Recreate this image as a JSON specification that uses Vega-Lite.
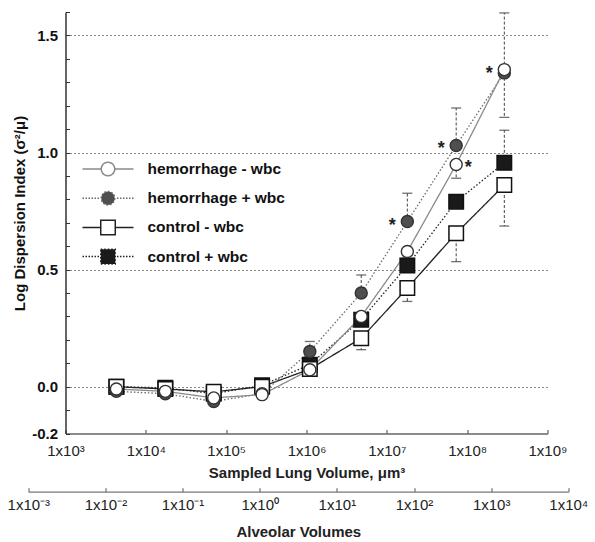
{
  "$schema": "https://vega.github.io/schema/vega-lite/v6.json",
  "width": 482,
  "height": 421.5,
  "autosize": {"type": "none"},
  "padding": {"left": 65.5, "top": 12, "right": 47.5, "bottom": 108.5},
  "background": "white",
  "config": {"view": {"stroke": null}, "font": "Liberation Sans"},
  "datasets": {
    "pts": [
      {"series": "control + wbc", "x": 4300, "y": 0.0},
      {"series": "control + wbc", "x": 17500, "y": -0.005},
      {"series": "control + wbc", "x": 70000, "y": -0.03},
      {"series": "control + wbc", "x": 280000, "y": 0.006},
      {"series": "control + wbc", "x": 1100000, "y": 0.094},
      {"series": "control + wbc", "x": 4800000, "y": 0.286},
      {"series": "control + wbc", "x": 18000000, "y": 0.517},
      {"series": "control + wbc", "x": 73000000, "y": 0.79},
      {"series": "control + wbc", "x": 290000000, "y": 0.956},
      {"series": "control - wbc", "x": 4300, "y": 0.0},
      {"series": "control - wbc", "x": 17500, "y": -0.01},
      {"series": "control - wbc", "x": 70000, "y": -0.022},
      {"series": "control - wbc", "x": 280000, "y": 0.0},
      {"series": "control - wbc", "x": 1100000, "y": 0.075},
      {"series": "control - wbc", "x": 4800000, "y": 0.207},
      {"series": "control - wbc", "x": 18000000, "y": 0.421},
      {"series": "control - wbc", "x": 73000000, "y": 0.655},
      {"series": "control - wbc", "x": 290000000, "y": 0.861},
      {"series": "hemorrhage + wbc", "x": 4300, "y": -0.02},
      {"series": "hemorrhage + wbc", "x": 17500, "y": -0.03},
      {"series": "hemorrhage + wbc", "x": 70000, "y": -0.063},
      {"series": "hemorrhage + wbc", "x": 280000, "y": -0.03},
      {"series": "hemorrhage + wbc", "x": 1100000, "y": 0.15},
      {"series": "hemorrhage + wbc", "x": 4800000, "y": 0.40},
      {"series": "hemorrhage + wbc", "x": 18000000, "y": 0.705},
      {"series": "hemorrhage + wbc", "x": 73000000, "y": 1.03},
      {"series": "hemorrhage + wbc", "x": 290000000, "y": 1.34},
      {"series": "hemorrhage - wbc", "x": 4300, "y": -0.01},
      {"series": "hemorrhage - wbc", "x": 17500, "y": -0.02},
      {"series": "hemorrhage - wbc", "x": 70000, "y": -0.048},
      {"series": "hemorrhage - wbc", "x": 280000, "y": -0.034},
      {"series": "hemorrhage - wbc", "x": 1100000, "y": 0.072},
      {"series": "hemorrhage - wbc", "x": 4800000, "y": 0.30},
      {"series": "hemorrhage - wbc", "x": 18000000, "y": 0.577},
      {"series": "hemorrhage - wbc", "x": 73000000, "y": 0.949},
      {"series": "hemorrhage - wbc", "x": 290000000, "y": 1.354}
    ],
    "err": [
      {"series": "hemorrhage + wbc", "x": 1100000, "y": 0.15, "y2": 0.193},
      {"series": "hemorrhage + wbc", "x": 4800000, "y": 0.40, "y2": 0.477},
      {"series": "control - wbc", "x": 4800000, "y": 0.207, "y2": 0.158},
      {"series": "hemorrhage + wbc", "x": 18000000, "y": 0.705, "y2": 0.826},
      {"series": "control - wbc", "x": 18000000, "y": 0.421, "y2": 0.364},
      {"series": "hemorrhage + wbc", "x": 73000000, "y": 1.03, "y2": 1.19},
      {"series": "hemorrhage - wbc", "x": 73000000, "y": 0.949, "y2": 0.89},
      {"series": "control - wbc", "x": 73000000, "y": 0.655, "y2": 0.534},
      {"series": "hemorrhage - wbc", "x": 290000000, "y": 1.354, "y2": 1.596},
      {"series": "hemorrhage + wbc", "x": 290000000, "y": 1.34, "y2": 1.15},
      {"series": "control + wbc", "x": 290000000, "y": 0.956, "y2": 1.095},
      {"series": "control - wbc", "x": 290000000, "y": 0.861, "y2": 0.686}
    ],
    "stars": [
      {"x": 18000000, "y": 0.705, "side": "L"},
      {"x": 73000000, "y": 1.03, "side": "L"},
      {"x": 73000000, "y": 0.949, "side": "R"},
      {"x": 290000000, "y": 1.354, "side": "L"}
    ],
    "alv": [{"a": 0.001}, {"a": 10000}]
  },
  "layer": [
    {
      "layer": [
        {
          "data": {"name": "pts"},
          "mark": {"type": "point", "filled": true, "opacity": 0},
          "encoding": {
            "x": {
              "field": "x", "type": "quantitative",
              "scale": {"type": "log", "domain": [1000, 1000000000]},
              "axis": {
                "title": "Sampled Lung Volume, μm³",
                "values": [1000, 10000, 100000, 1000000, 10000000, 100000000, 1000000000],
                "tickCount": 50,
                "labelExpr": "'1x10' + (datum.value < 1 ? '⁻' : '') + substring('⁰¹²³⁴⁵⁶⁷⁸⁹', round(abs(log(datum.value)/LN10)), round(abs(log(datum.value)/LN10)) + 1)",
                "grid": false,
                "tickSize": -4, "tickColor": "#444", "tickWidth": 1,
                "domainColor": "#666", "domainWidth": 1.3,
                "labelFont": "Liberation Sans", "labelFontSize": 15, "labelColor": "#222",
                "labelPadding": 14, "labelFlush": false, "labelOverlap": false,
                "titleFont": "Liberation Sans", "titleFontSize": 15, "titleFontWeight": "bold", "titleColor": "#222",
                "titleBaseline": "middle", "titleY": 38.5
              }
            },
            "y": {
              "field": "y", "type": "quantitative",
              "scale": {"domain": [-0.2, 1.6], "nice": false, "zero": false},
              "axis": {
                "title": "Log Dispersion Index (σ²/μ)",
                "values": [-0.2, -0.1, 0, 0.1, 0.2, 0.3, 0.4, 0.5, 0.6, 0.7, 0.8, 0.9, 1, 1.1, 1.2, 1.3, 1.4, 1.5, 1.6],
                "tickCount": 50,
                "labelExpr": "(abs(datum.value + 0.2) < 0.01 || abs(datum.value) < 0.01 || abs(datum.value - 0.5) < 0.01 || abs(datum.value - 1) < 0.01 || abs(datum.value - 1.5) < 0.01) ? replace(format(datum.value, '.1f'), '−', '-') : ''",
                "grid": true, "gridDash": [2, 2], "gridColor": "#888", "gridWidth": 1,
                "gridOpacity": {"condition": {"test": "abs(datum.value) < 0.01 || abs(datum.value - 0.5) < 0.01 || abs(datum.value - 1) < 0.01 || abs(datum.value - 1.5) < 0.01", "value": 1}, "value": 0},
                "tickSize": -4, "tickColor": "#333", "tickWidth": 1,
                "domainColor": "#333", "domainWidth": 1.5,
                "labelFont": "Liberation Sans", "labelFontSize": 15, "labelFontWeight": "bold", "labelColor": "#111",
                "labelPadding": 12, "labelOverlap": false,
                "titleFont": "Liberation Sans", "titleFontSize": 15, "titleFontWeight": "bold", "titleColor": "#111",
                "titleBaseline": "middle", "titleX": -46.5, "titleY": 201
              }
            },
            "fill": {
              "field": "series", "type": "nominal",
              "scale": {"domain": ["hemorrhage - wbc", "hemorrhage + wbc", "control - wbc", "control + wbc"], "range": ["#ffffff", "#4f4f4f", "#ffffff", "#1a1a1a"]}
            },
            "stroke": {
              "field": "series", "type": "nominal",
              "scale": {"domain": ["hemorrhage - wbc", "hemorrhage + wbc", "control - wbc", "control + wbc"], "range": ["#8a8a8a", "#6a6a6a", "#222222", "#222222"]}
            },
            "shape": {
              "field": "series", "type": "nominal",
              "scale": {
                "domain": ["hemorrhage - wbc", "hemorrhage + wbc", "control - wbc", "control + wbc"],
                "range": [
                  "M-3.4,0L-0.9,0M0.9,0L3.4,0M0.9,0A0.9,0.9,0,1,1,-0.9,0A0.9,0.9,0,1,1,0.9,0Z",
                  "M-3.4,0h0.2M-3,0h0.2M-2.6,0h0.2M-2.2,0h0.2M-1.8,0h0.2M-1.4,0h0.2M1.2,0h0.2M1.6,0h0.2M2,0h0.2M2.4,0h0.2M2.8,0h0.2M3.2,0h0.2M0.9,0A0.9,0.9,0,1,1,-0.9,0A0.9,0.9,0,1,1,0.9,0Z",
                  "M-3.4,0L-0.97,0M0.97,0L3.4,0M-0.97,-0.97H0.97V0.97H-0.97Z",
                  "M-3.4,0h0.2M-3,0h0.2M-2.6,0h0.2M-2.2,0h0.2M-1.8,0h0.2M-1.4,0h0.2M1.2,0h0.2M1.6,0h0.2M2,0h0.2M2.4,0h0.2M2.8,0h0.2M3.2,0h0.2M-0.97,-0.97H0.97V0.97H-0.97Z"
                ]
              },
              "legend": {
                "orient": "none", "legendX": 34, "legendY": 148.5, "title": null, "padding": 0,
                "symbolSize": 225, "symbolStrokeWidth": 1.5, "symbolOpacity": 1,
                "labelFont": "Liberation Sans", "labelFontSize": 15.5, "labelFontWeight": "bold", "labelColor": "#111",
                "labelOffset": 31, "rowPadding": 8.2, "symbolOffset": 0
              }
            }
          }
        },
        {
          "data": {"name": "err"},
          "mark": {"type": "rule", "strokeDash": [3, 2], "color": "#444", "strokeWidth": 1},
          "encoding": {
            "x": {"field": "x", "type": "quantitative"},
            "y": {"field": "y", "type": "quantitative"},
            "y2": {"field": "y2"}
          }
        },
        {
          "data": {"name": "err"},
          "mark": {"type": "tick", "orient": "horizontal", "size": 10, "thickness": 1.3, "color": "#333"},
          "encoding": {
            "x": {"field": "x", "type": "quantitative"},
            "y": {"field": "y2", "type": "quantitative"}
          }
        },
        {
          "data": {"name": "pts"},
          "mark": {"type": "line", "strokeWidth": 1.3},
          "encoding": {
            "x": {"field": "x", "type": "quantitative"},
            "y": {"field": "y", "type": "quantitative"},
            "stroke": {"field": "series", "type": "nominal", "legend": null},
            "strokeDash": {
              "field": "series", "type": "nominal", "legend": null,
              "scale": {"domain": ["hemorrhage - wbc", "hemorrhage + wbc", "control - wbc", "control + wbc"], "range": [[1, 0], [1.5, 2], [1, 0], [1.5, 2]]}
            }
          }
        },
        {
          "data": {"name": "pts"},
          "transform": [{"filter": "indexof(datum.series, 'control') == 0"}],
          "mark": {"type": "point", "shape": "square", "size": 210, "filled": true, "stroke": "#111", "strokeWidth": 1.5, "opacity": 1},
          "encoding": {
            "x": {"field": "x", "type": "quantitative"},
            "y": {"field": "y", "type": "quantitative"},
            "fill": {"field": "series", "type": "nominal", "legend": null}
          }
        },
        {
          "data": {"name": "pts"},
          "transform": [{"filter": "indexof(datum.series, 'hemorrhage') == 0"}],
          "mark": {"type": "point", "shape": "circle", "size": 145, "filled": true, "stroke": "#333", "strokeWidth": 1.4, "opacity": 1},
          "encoding": {
            "x": {"field": "x", "type": "quantitative"},
            "y": {"field": "y", "type": "quantitative"},
            "fill": {"field": "series", "type": "nominal", "legend": null}
          }
        },
        {
          "data": {"name": "stars"},
          "transform": [{"filter": "datum.side == 'L'"}],
          "mark": {"type": "text", "text": "*", "font": "Liberation Sans", "fontSize": 18, "fontWeight": "bold", "color": "#222", "dx": -15, "dy": 9, "baseline": "alphabetic"},
          "encoding": {
            "x": {"field": "x", "type": "quantitative"},
            "y": {"field": "y", "type": "quantitative"}
          }
        },
        {
          "data": {"name": "stars"},
          "transform": [{"filter": "datum.side == 'R'"}],
          "mark": {"type": "text", "text": "*", "font": "Liberation Sans", "fontSize": 18, "fontWeight": "bold", "color": "#222", "dx": 12, "dy": 9, "baseline": "alphabetic"},
          "encoding": {
            "x": {"field": "x", "type": "quantitative"},
            "y": {"field": "y", "type": "quantitative"}
          }
        }
      ]
    },
    {
      "data": {"name": "alv"},
      "mark": {"type": "point", "opacity": 0},
      "encoding": {
        "x": {
          "field": "a", "type": "quantitative",
          "scale": {"type": "log", "domain": [0.001, 10000], "range": [-37.2, 502.8]},
          "axis": {
            "orient": "bottom", "offset": 58.2,
            "title": "Alveolar Volumes",
            "values": [0.001, 0.01, 0.1, 1, 10, 100, 1000, 10000],
            "tickCount": 50,
            "labelExpr": "'1x10' + (datum.value < 1 ? '⁻' : '') + substring('⁰¹²³⁴⁵⁶⁷⁸⁹', round(abs(log(datum.value)/LN10)), round(abs(log(datum.value)/LN10)) + 1)",
            "grid": false,
            "tickSize": -4, "tickColor": "#555", "tickWidth": 1,
            "domainColor": "#777", "domainWidth": 1.3,
            "labelFont": "Liberation Sans", "labelFontSize": 15, "labelColor": "#222",
            "labelPadding": 9.5, "labelFlush": false, "labelOverlap": false,
            "titleFont": "Liberation Sans", "titleFontSize": 15, "titleFontWeight": "bold", "titleColor": "#222",
            "titleBaseline": "middle", "titleY": 39.5
          }
        }
      }
    }
  ],
  "resolve": {"scale": {"x": "independent"}, "axis": {"x": "independent"}}
}
